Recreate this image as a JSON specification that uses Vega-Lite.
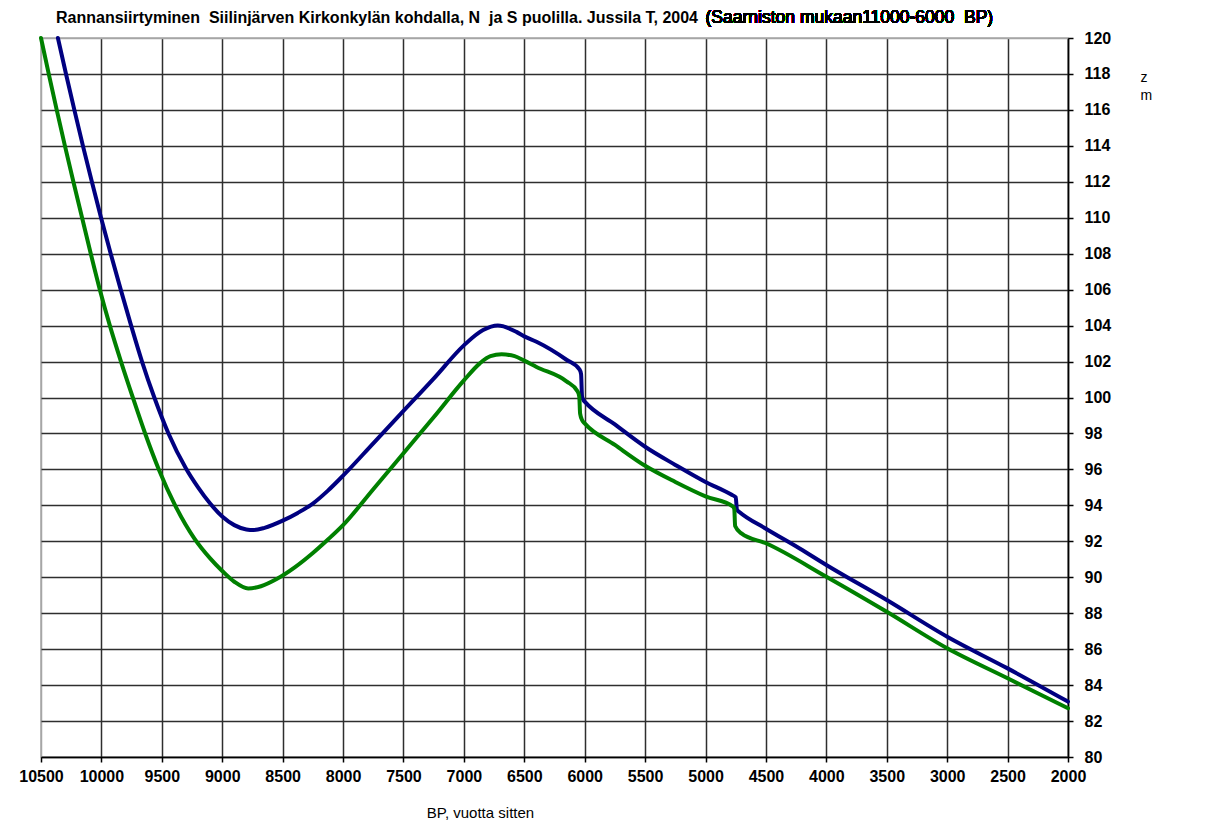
{
  "$schema": "https://vega.github.io/schema/vega-lite/v6.json",
  "autosize": "none",
  "width": 1027,
  "height": 719,
  "padding": {"left": 41, "top": 38, "right": 138, "bottom": 77},
  "background": "white",
  "config": {
    "view": {"stroke": "#a6a6a6", "strokeWidth": 1.5},
    "font": "Liberation Sans"
  },
  "title": {
    "text": "Rannansiirtyminen \u00a0Siilinjärven Kirkonkylän kohdalla, N \u00a0ja S puolilla. Jussila T, 2004",
    "anchor": "start",
    "frame": "group",
    "font": "Liberation Sans",
    "fontSize": 16,
    "fontWeight": "bold",
    "color": "#000000",
    "dx": 15,
    "offset": 0,
    "dy": 17
  },
  "data": {
    "values": [
      {"side": "N", "bp": 10360, "z": 120},
      {"side": "N", "bp": 10293, "z": 118},
      {"side": "N", "bp": 10224, "z": 116},
      {"side": "N", "bp": 10153, "z": 114},
      {"side": "N", "bp": 10079, "z": 112},
      {"side": "N", "bp": 10003, "z": 110},
      {"side": "N", "bp": 9923, "z": 108},
      {"side": "N", "bp": 9840, "z": 106},
      {"side": "N", "bp": 9754, "z": 104},
      {"side": "N", "bp": 9664, "z": 102},
      {"side": "N", "bp": 9562, "z": 100},
      {"side": "N", "bp": 9445, "z": 98},
      {"side": "N", "bp": 9300, "z": 96.05},
      {"side": "N", "bp": 9200, "z": 95.0},
      {"side": "N", "bp": 9100, "z": 94.1},
      {"side": "N", "bp": 9000, "z": 93.38},
      {"side": "N", "bp": 8900, "z": 92.9},
      {"side": "N", "bp": 8800, "z": 92.66},
      {"side": "N", "bp": 8740, "z": 92.63},
      {"side": "N", "bp": 8650, "z": 92.75},
      {"side": "N", "bp": 8500, "z": 93.15},
      {"side": "N", "bp": 8375, "z": 93.58},
      {"side": "N", "bp": 8250, "z": 94.1},
      {"side": "N", "bp": 8125, "z": 94.82},
      {"side": "N", "bp": 8000, "z": 95.65},
      {"side": "N", "bp": 7750, "z": 97.45},
      {"side": "N", "bp": 7500, "z": 99.25},
      {"side": "N", "bp": 7250, "z": 101.05},
      {"side": "N", "bp": 7000, "z": 102.9},
      {"side": "N", "bp": 6841, "z": 103.75},
      {"side": "N", "bp": 6719, "z": 104.0},
      {"side": "N", "bp": 6565, "z": 103.65},
      {"side": "N", "bp": 6500, "z": 103.4},
      {"side": "N", "bp": 6399, "z": 103.1},
      {"side": "N", "bp": 6151, "z": 102.1},
      {"side": "N", "bp": 6042, "z": 101.55},
      {"side": "N", "bp": 6030, "z": 101.3},
      {"side": "N", "bp": 6022, "z": 100.05},
      {"side": "N", "bp": 6010, "z": 99.85},
      {"side": "N", "bp": 6000, "z": 99.77},
      {"side": "N", "bp": 5750, "z": 98.5},
      {"side": "N", "bp": 5500, "z": 97.26},
      {"side": "N", "bp": 5250, "z": 96.25},
      {"side": "N", "bp": 5000, "z": 95.3},
      {"side": "N", "bp": 4787, "z": 94.6},
      {"side": "N", "bp": 4750, "z": 94.45},
      {"side": "N", "bp": 4740, "z": 93.75},
      {"side": "N", "bp": 4720, "z": 93.63},
      {"side": "N", "bp": 4500, "z": 92.7},
      {"side": "N", "bp": 4221, "z": 91.6},
      {"side": "N", "bp": 4000, "z": 90.68},
      {"side": "N", "bp": 3500, "z": 88.73},
      {"side": "N", "bp": 3000, "z": 86.69},
      {"side": "N", "bp": 2500, "z": 84.93},
      {"side": "N", "bp": 2000, "z": 83.08},
      {"side": "S", "bp": 10500, "z": 120},
      {"side": "S", "bp": 10436, "z": 118},
      {"side": "S", "bp": 10370, "z": 116},
      {"side": "S", "bp": 10302, "z": 114},
      {"side": "S", "bp": 10232, "z": 112},
      {"side": "S", "bp": 10160, "z": 110},
      {"side": "S", "bp": 10088, "z": 108},
      {"side": "S", "bp": 10013, "z": 106},
      {"side": "S", "bp": 9930, "z": 104},
      {"side": "S", "bp": 9838, "z": 102},
      {"side": "S", "bp": 9740, "z": 100},
      {"side": "S", "bp": 9638, "z": 98},
      {"side": "S", "bp": 9525, "z": 96},
      {"side": "S", "bp": 9390, "z": 94},
      {"side": "S", "bp": 9230, "z": 92.15},
      {"side": "S", "bp": 9100, "z": 91.05},
      {"side": "S", "bp": 9000, "z": 90.35},
      {"side": "S", "bp": 8900, "z": 89.75},
      {"side": "S", "bp": 8785, "z": 89.38},
      {"side": "S", "bp": 8680, "z": 89.5},
      {"side": "S", "bp": 8550, "z": 89.9},
      {"side": "S", "bp": 8400, "z": 90.55},
      {"side": "S", "bp": 8250, "z": 91.35},
      {"side": "S", "bp": 8125, "z": 92.1},
      {"side": "S", "bp": 8000, "z": 92.9},
      {"side": "S", "bp": 7750, "z": 94.9},
      {"side": "S", "bp": 7500, "z": 96.9},
      {"side": "S", "bp": 7250, "z": 98.9},
      {"side": "S", "bp": 7000, "z": 100.95},
      {"side": "S", "bp": 6868, "z": 101.9},
      {"side": "S", "bp": 6780, "z": 102.3},
      {"side": "S", "bp": 6688, "z": 102.4},
      {"side": "S", "bp": 6580, "z": 102.3},
      {"side": "S", "bp": 6500, "z": 102.05},
      {"side": "S", "bp": 6399, "z": 101.7},
      {"side": "S", "bp": 6151, "z": 100.9},
      {"side": "S", "bp": 6060, "z": 100.35},
      {"side": "S", "bp": 6045, "z": 100.05},
      {"side": "S", "bp": 6038, "z": 99.1},
      {"side": "S", "bp": 6020, "z": 98.72},
      {"side": "S", "bp": 6000, "z": 98.56},
      {"side": "S", "bp": 5750, "z": 97.36},
      {"side": "S", "bp": 5500, "z": 96.2},
      {"side": "S", "bp": 5250, "z": 95.3},
      {"side": "S", "bp": 5000, "z": 94.5},
      {"side": "S", "bp": 4772, "z": 93.93},
      {"side": "S", "bp": 4762, "z": 93.8},
      {"side": "S", "bp": 4755, "z": 92.85},
      {"side": "S", "bp": 4703, "z": 92.44},
      {"side": "S", "bp": 4500, "z": 91.89},
      {"side": "S", "bp": 4000, "z": 90.03},
      {"side": "S", "bp": 3500, "z": 88.08},
      {"side": "S", "bp": 3000, "z": 86.05},
      {"side": "S", "bp": 2500, "z": 84.38},
      {"side": "S", "bp": 2000, "z": 82.71}
    ]
  },
  "layer": [
    {
      "mark": {
        "type": "line",
        "strokeWidth": 4,
        "interpolate": "monotone",
        "strokeCap": "round",
        "strokeJoin": "round"
      },
      "encoding": {
        "x": {
          "field": "bp",
          "type": "quantitative",
          "scale": {"domain": [2000, 10500], "reverse": true, "nice": false, "zero": false},
          "axis": {
            "values": [10500, 10000, 9500, 9000, 8500, 8000, 7500, 7000, 6500, 6000, 5500, 5000, 4500, 4000, 3500, 3000, 2500, 2000],
            "tickCount": 40,
            "format": "d",
            "labelFont": "Liberation Sans",
            "labelFontSize": 16,
            "labelFontWeight": "bold",
            "labelColor": "#000000",
            "labelPadding": 6,
            "labelFlush": false,
            "labelOverlap": false,
            "tickSize": 5,
            "tickColor": "#000000",
            "tickWidth": 1.5,
            "domainColor": "#000000",
            "domainWidth": 1.5,
            "gridColor": {"condition": {"test": "datum.value == 10500", "value": "#a6a6a6"}, "value": "#2e2e2e"},
            "gridWidth": 1.5,
            "title": "BP, vuotta sitten",
            "titleFont": "Liberation Sans",
            "titleFontSize": 15,
            "titleFontWeight": "normal",
            "titleColor": "#000000",
            "titleAlign": "center",
            "titleBaseline": "middle",
            "titleX": 439,
            "titleY": 55
          }
        },
        "y": {
          "field": "z",
          "type": "quantitative",
          "scale": {"domain": [80, 120], "nice": false, "zero": false},
          "axis": {
            "orient": "right",
            "values": [80, 82, 84, 86, 88, 90, 92, 94, 96, 98, 100, 102, 104, 106, 108, 110, 112, 114, 116, 118, 120],
            "tickCount": 40,
            "labelFont": "Liberation Sans",
            "labelFontSize": 16,
            "labelFontWeight": "bold",
            "labelColor": "#000000",
            "labelPadding": 11,
            "labelFlush": false,
            "labelOverlap": false,
            "tickSize": 5,
            "tickColor": "#000000",
            "tickWidth": 1.5,
            "domainColor": "#000000",
            "domainWidth": 1.5,
            "gridColor": {"condition": {"test": "datum.value == 120", "value": "#a6a6a6"}, "value": "#2e2e2e"},
            "gridWidth": 1.5,
            "title": ["z", "m"],
            "titleFont": "Liberation Sans",
            "titleFontSize": 14,
            "titleFontWeight": "normal",
            "titleColor": "#000000",
            "titleAngle": 0,
            "titleAlign": "left",
            "titleBaseline": "middle",
            "titleLineHeight": 18,
            "titleX": 72,
            "titleY": 39
          }
        },
        "color": {
          "field": "side",
          "type": "nominal",
          "scale": {"domain": ["N", "S"], "range": ["#000080", "#008000"]},
          "legend": null
        }
      }
    },
    {
      "mark": {
        "type": "text",
        "align": "left",
        "baseline": "middle",
        "font": "Liberation Sans",
        "fontSize": 17.5,
        "color": "#000000"
      },
      "encoding": {
        "x": {"datum": 5000, "type": "quantitative"},
        "y": {"datum": 121.11, "type": "quantitative"},
        "text": {"value": "(Saarniston mukaan11000-6000 \u00a0BP)"}
      }
    }
  ]
}
